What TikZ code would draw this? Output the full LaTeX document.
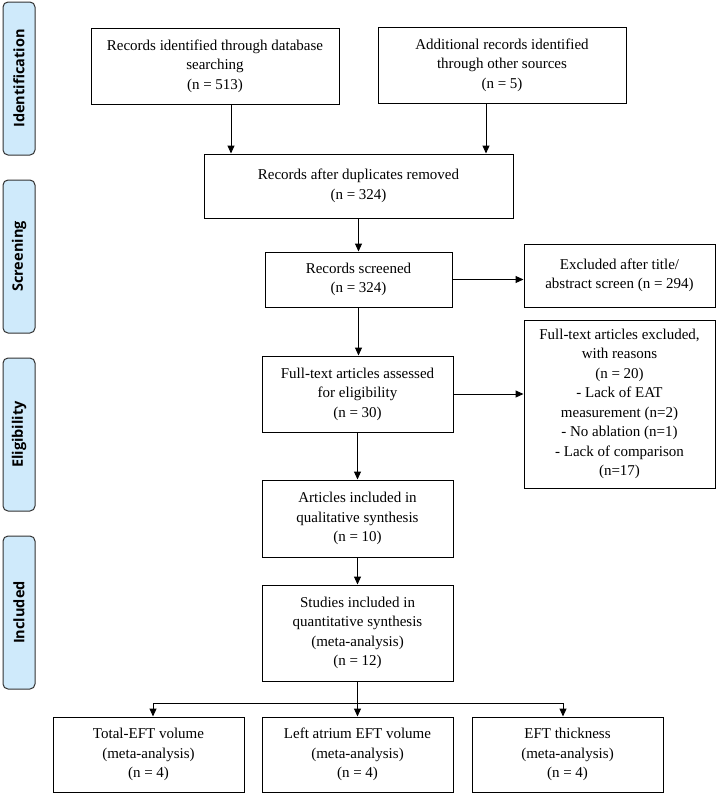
\documentclass[tikz,border=0pt]{standalone}
\usepackage{fontspec}
\setmainfont{Liberation Serif}
\newfontfamily\bandfont{Open Sans}
\usetikzlibrary{arrows.meta}
\definecolor{bandfill}{RGB}{207,234,251}
\definecolor{bandline}{RGB}{50,50,50}
\begin{document}
\begin{tikzpicture}[x=1pt,y=-1pt,
  box/.style={draw=black, line width=1pt, align=center, inner sep=2pt,
    font=\fontsize{15}{19.5}\selectfont},
  band/.style={draw=bandline, fill=bandfill, line width=1pt, rounded corners=5pt,
    rotate=90, minimum height=32pt, minimum width=153pt, inner sep=0pt,
    font=\bandfont\bfseries\fontsize{14.5}{16}\selectfont},
  arr/.style={line width=1pt, -{Triangle[length=8pt,width=7pt]}},
  conn/.style={line width=1pt}]
\useasboundingbox (0,0) rectangle (720,796);

% phase bands
\node[band] (s1) at (19,78.5) {Identification};
\node[band] (s2) at (19,256.5) {Screening};
\node[band] (s3) at (19,434.5) {Eligibility};
\node[band] (s4) at (19,612.5) {Included};

% boxes
\node[box, minimum width=248pt, minimum height=76pt] (b1) at (215,66)
  {Records identified through database\\searching\\(n = 513)};
\node[box, minimum width=248pt, minimum height=76pt] (b2) at (502,65)
  {Additional records identified\\through other sources\\(n = 5)};
\node[box, minimum width=309pt, minimum height=64pt] (b3) at (358.5,186)
  {Records after duplicates removed\\(n = 324)};
\node[box, minimum width=187pt, minimum height=55pt] (b4) at (358.5,279.5)
  {Records screened\\(n = 324)};
\node[box, minimum width=191pt, minimum height=63pt] (b5) at (619.5,275.5)
  {Excluded after title/\\abstract screen (n = 294)};
\node[box, minimum width=191pt, minimum height=76pt] (b6) at (357.5,394)
  {Full-text articles assessed\\for eligibility\\(n = 30)};
\node[box, minimum width=191pt, minimum height=168pt] (b7) at (619.5,404)
  {Full-text articles excluded,\\with reasons\\(n = 20)\\- Lack of EAT\\measurement (n=2)\\- No ablation (n=1)\\- Lack of comparison\\(n=17)};
\node[box, minimum width=191pt, minimum height=77pt] (b8) at (357.5,518.5)
  {Articles included in\\qualitative synthesis\\(n = 10)};
\node[box, minimum width=191pt, minimum height=96pt] (b9) at (357.5,633)
  {Studies included in\\quantitative synthesis\\(meta-analysis)\\(n = 12)};
\node[box, minimum width=191pt, minimum height=75pt] (b10) at (148.5,754.5)
  {Total-EFT volume\\(meta-analysis)\\(n = 4)};
\node[box, minimum width=191pt, minimum height=75pt] (b11) at (357.5,754.5)
  {Left atrium EFT volume\\(meta-analysis)\\(n = 4)};
\node[box, minimum width=191pt, minimum height=75pt] (b12) at (567.5,754.5)
  {EFT thickness\\(meta-analysis)\\(n = 4)};

% connectors
\draw[arr] ([xshift=16pt]b1.south) -- ([xshift=16pt]b1.south |- b3.north);
\draw[arr] ([xshift=-16pt]b2.south) -- ([xshift=-16pt]b2.south |- b3.north);
\draw[arr] (b3.south) -- (b4.north);
\draw[arr] (b4.east) -- (b4.east -| b5.west);
\draw[arr] (b4.south) -- (b4.south |- b6.north);
\draw[arr] (b6.east) -- (b6.east -| b7.west);
\draw[arr] (b6.south) -- (b8.north);
\draw[arr] (b8.south) -- (b9.north);
\coordinate (j) at (357.5,703);
\draw[arr] (b9.south) -- (b11.north);
\draw[arr] (j) -| ([xshift=4.5pt]b10.north);
\draw[arr] (j) -| ([xshift=-4.5pt]b12.north);
\end{tikzpicture}
\end{document}
